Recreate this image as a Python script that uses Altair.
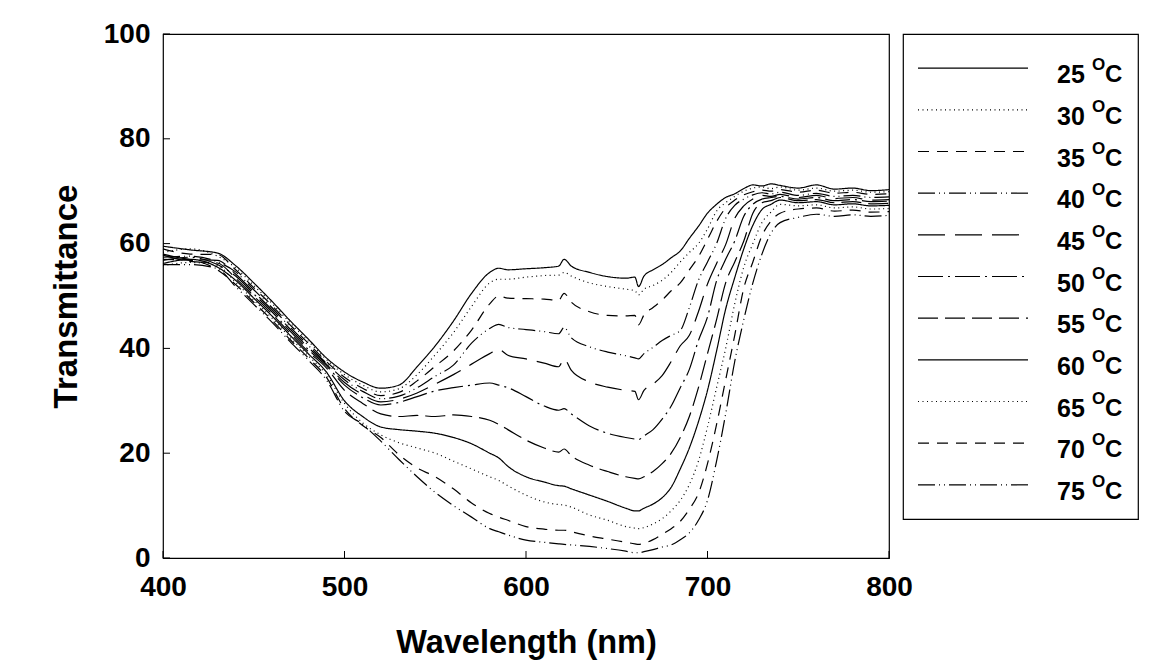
import altair as alt
import pandas as pd

wavelength = [400, 415, 430, 440, 450, 460, 470, 480, 490, 500,
              510, 520, 530, 540, 550, 560, 570, 580, 585, 590,
              600, 610, 618, 621, 625, 635, 645, 655, 660, 662,
              665, 670, 675, 680, 685, 690, 695, 700, 705, 710,
              715, 720, 725, 730, 735, 740, 750, 760, 770, 780,
              790, 800]

t25 = [59.5, 58.8, 58.2, 55.8, 52.5, 49.0, 45.3, 41.8, 38.2, 35.5,
       33.6, 32.4, 33.0, 36.5, 40.5, 45.2, 50.5, 54.5, 55.3, 55.0,
       55.2, 55.4, 55.7, 57.0, 55.7, 54.5, 53.7, 53.4, 53.6, 51.8,
       53.8, 55.0, 56.0, 57.3, 58.6, 61.0, 63.3, 65.8, 67.5, 68.8,
       69.5, 70.5, 71.2, 71.0, 71.4, 71.1, 70.6, 71.2, 70.4, 70.6,
       70.1, 70.3]
t30 = [58.3, 59.0, 57.6, 55.4, 52.0, 48.6, 44.9, 41.4, 37.9, 35.0,
       33.0, 31.7, 32.3, 35.0, 38.8, 43.0, 48.0, 52.5, 53.2, 53.2,
       53.6, 53.9, 54.0, 54.5, 53.8, 52.5, 51.8, 51.3, 51.0, 50.2,
       51.3, 52.0, 53.0, 54.5, 56.5, 58.3, 60.0, 62.8, 66.2, 67.8,
       69.0, 70.0, 70.6, 70.8, 70.5, 70.8, 70.2, 70.6, 70.0, 70.2,
       69.8, 69.9]
t35 = [59.0, 58.0, 57.9, 55.0, 51.6, 48.2, 44.5, 41.0, 37.5, 34.5,
       32.4, 31.0, 31.6, 33.8, 36.6, 39.5, 43.5, 48.5, 50.0, 49.6,
       49.5, 49.4, 49.2, 50.5, 48.8, 47.0, 46.3, 46.2, 46.3, 44.5,
       46.4, 47.8, 49.2, 51.0, 52.5, 55.0, 57.5, 60.8, 64.2, 66.8,
       68.3, 69.3, 69.9, 70.2, 70.0, 70.3, 69.8, 70.2, 69.6, 69.8,
       69.4, 69.5]
t40 = [57.4, 57.6, 56.5, 54.6, 51.2, 47.8, 44.1, 40.6, 37.2, 34.0,
       31.8, 30.4, 30.9, 32.5, 34.7, 36.8, 41.0, 43.8, 44.6, 44.0,
       43.6, 43.2, 42.8, 44.0, 42.0, 40.3, 39.3, 38.6, 38.2, 38.0,
       39.0, 40.2, 41.5, 42.5, 43.4, 47.8, 53.0, 56.5, 60.0, 64.8,
       67.3, 68.5, 69.3, 69.7, 69.5, 69.8, 69.2, 69.6, 69.0, 69.2,
       68.8, 68.9]
t45 = [58.0, 57.0, 56.8, 54.2, 50.8, 47.4, 43.7, 40.2, 37.0, 33.5,
       31.2, 29.8, 30.3, 31.5, 33.2, 35.0, 37.0, 39.0, 39.8, 38.7,
       38.0, 37.2, 36.5, 38.0, 35.8, 33.6, 32.6, 32.0, 31.8, 30.2,
       32.0, 33.2, 34.8, 37.5, 40.5, 42.5, 47.0, 52.3, 56.2, 59.8,
       64.8, 67.2, 68.5, 69.2, 69.0, 69.4, 68.8, 69.2, 68.6, 68.8,
       68.3, 68.4]
t50 = [56.8, 57.4, 56.0, 53.8, 50.4, 47.0, 43.3, 39.8, 36.7, 33.0,
       30.6, 29.2, 29.7, 30.8, 31.9, 32.5, 33.0, 33.4, 33.0, 32.5,
       30.8, 29.0, 28.2, 28.5, 27.5, 25.2, 23.8, 23.0, 22.7, 22.6,
       23.3, 24.5, 26.5, 29.0, 32.5, 36.0, 41.5, 46.0, 52.9, 57.0,
       60.5, 65.2, 67.5, 68.5, 68.8, 69.0, 68.5, 68.8, 68.2, 68.4,
       68.0, 68.1]
t55 = [57.8, 56.6, 56.3, 53.4, 50.0, 46.6, 42.9, 39.4, 36.3, 32.0,
       29.5, 27.5, 27.0, 27.2, 27.0, 27.3, 27.0, 26.3, 25.5, 24.5,
       22.5, 21.0, 20.2, 20.8, 19.5, 17.7, 16.5, 15.5, 15.2, 15.1,
       15.5, 16.5, 18.0, 20.0, 23.0, 27.0, 32.5, 39.0, 45.5, 52.5,
       56.5, 60.5, 65.8, 67.8, 68.2, 68.8, 68.2, 68.4, 67.8, 68.0,
       67.6, 67.7]
t60 = [56.2, 57.0, 55.5, 53.0, 49.6, 46.2, 42.5, 39.0, 35.5, 30.0,
       27.0, 25.0, 24.5, 24.2, 23.8, 23.0, 21.8, 20.0, 19.1, 17.5,
       15.5, 14.5, 13.8, 13.7, 13.2, 12.0, 10.8, 9.5, 9.0, 9.0,
       9.5, 10.3, 11.5, 13.5, 17.0, 21.0, 26.0, 32.0, 39.5, 47.5,
       53.5, 59.0, 63.5, 66.5, 67.5, 68.3, 67.8, 68.0, 67.4, 67.6,
       67.2, 67.3]
t65 = [55.8, 56.4, 55.8, 52.6, 49.2, 45.8, 42.1, 38.6, 35.0, 29.5,
       25.8, 23.5, 22.0, 21.0, 20.0, 18.5, 17.0, 15.5, 14.8, 13.8,
       12.0, 10.7, 10.2, 10.1, 9.7, 8.2, 7.2, 6.0, 5.7, 5.6,
       5.8, 6.5, 7.5, 9.0, 11.0, 14.0, 18.5, 25.0, 32.5, 40.0,
       48.5, 55.5, 60.0, 64.0, 66.0, 67.5, 67.2, 67.4, 66.8, 67.0,
       66.6, 66.7]
t70 = [57.0, 56.8, 55.0, 52.2, 48.8, 45.4, 41.7, 38.2, 34.5, 28.5,
       25.3, 23.0, 19.7, 17.2, 15.5, 13.2, 10.5, 8.5, 7.8, 7.2,
       6.0, 5.5, 5.3, 5.3, 5.0, 4.2, 3.6, 3.0, 2.7, 2.6,
       2.8, 3.5, 4.5, 5.6, 7.0, 9.3, 12.3, 18.0, 25.5, 34.0,
       42.5, 51.5, 56.5, 61.5, 64.3, 65.8, 66.6, 66.8, 66.2, 66.4,
       66.0, 66.1]
t75 = [56.0, 56.0, 55.2, 51.8, 48.4, 45.0, 41.3, 37.8, 34.0, 28.0,
       25.5, 22.3, 18.8, 15.5, 12.5, 10.0, 7.8, 5.6, 5.0, 4.4,
       3.4, 3.0, 2.7, 2.6, 2.5, 2.2, 1.8, 1.3, 1.0, 1.0,
       1.2, 1.6, 2.1, 2.5, 3.5, 4.8, 7.2, 11.0, 18.5, 27.5,
       37.5, 45.5, 52.5, 58.0, 62.0, 64.0, 65.0, 65.6, 65.2, 65.5,
       65.2, 65.4]

temps = ["25", "30", "35", "40", "45", "50", "55", "60", "65", "70", "75"]
series = [t25, t30, t35, t40, t45, t50, t55, t60, t65, t70, t75]
x_ticks = [400, 500, 600, 700, 800]
y_ticks = [0, 20, 40, 60, 80, 100]

dashes = [[1, 0], [1, 3.5], [11, 8], [17, 4, 1, 4, 1, 4], [27, 10], [25, 5, 2, 5],
          [20, 7], [1, 0], [1, 3.5], [11, 8], [17, 4, 1, 4, 1, 4]]

rows = []
for t, vals in zip(temps, series):
    for w, v in zip(wavelength, vals):
        rows.append({"wl": w, "T": v, "temp": t})
df = pd.DataFrame(rows)

FONT = "Liberation Sans"
W, H = 726, 524

xscale = alt.Scale(domain=[400, 800], nice=False, zero=False)
yscale = alt.Scale(domain=[0, 100], nice=False)
dash_scale = alt.Scale(domain=temps, range=dashes)

xaxis = alt.Axis(values=x_ticks, title="Wavelength (nm)", grid=False, ticks=False,
                 tickSize=0, domain=False, labelFont=FONT, labelFontSize=28,
                 labelFontWeight="bold", labelColor="black", labelPadding=15,
                 labelFlush=False,
                 titleFont=FONT, titleFontSize=32.5, titleFontWeight="bold",
                 titleColor="black", titlePadding=25, format="d")
yaxis = alt.Axis(values=y_ticks, title="Transmittance", grid=False, ticks=False,
                 tickSize=0, domain=False, labelFont=FONT, labelFontSize=28,
                 labelFontWeight="bold", labelColor="black", labelPadding=13,
                 labelFlush=False,
                 titleFont=FONT, titleFontSize=33, titleFontWeight="bold",
                 titleColor="black", titlePadding=20, format="d")

lines = alt.Chart(df).mark_line(color="black", strokeWidth=1.2, interpolate="monotone").encode(
    x=alt.X("wl:Q", scale=xscale, axis=xaxis),
    y=alt.Y("T:Q", scale=yscale, axis=yaxis),
    strokeDash=alt.StrokeDash("temp:N", scale=dash_scale, legend=None),
    detail="temp:N",
)

xt = alt.Chart(pd.DataFrame({"wl": x_ticks})).mark_rule(color="black", strokeWidth=1).encode(
    x=alt.X("wl:Q", scale=xscale, axis=xaxis), y=alt.value(H), y2=alt.value(H - 7))
yt = alt.Chart(pd.DataFrame({"T": y_ticks})).mark_rule(color="black", strokeWidth=1).encode(
    y=alt.Y("T:Q", scale=yscale, axis=yaxis), x=alt.value(0), x2=alt.value(7))

main = alt.layer(lines, xt, yt).properties(width=W, height=H)

leg_df = pd.DataFrame({"temp": temps})
ly = alt.Y("temp:N", scale=alt.Scale(type="point", domain=temps, padding=0.82), axis=None)
leg_base = alt.Chart(leg_df)
leg_lines = leg_base.mark_rule(color="black", strokeWidth=1.2).encode(
    y=ly, x=alt.value(15), x2=alt.value(125),
    strokeDash=alt.StrokeDash("temp:N", scale=dash_scale, legend=None))
leg_num = leg_base.mark_text(align="left", baseline="middle", font=FONT, fontSize=25,
                             fontWeight="bold", color="black", dy=7).encode(
    y=ly, x=alt.value(154), text="temp:N")
leg_o = leg_base.mark_text(align="left", baseline="middle", font=FONT, fontSize=17,
                           fontWeight="bold", color="black", dy=-3).encode(
    y=ly, x=alt.value(189), text=alt.value("O"))
leg_c = leg_base.mark_text(align="left", baseline="middle", font=FONT, fontSize=24,
                           fontWeight="bold", color="black", dy=7).encode(
    y=ly, x=alt.value(202), text=alt.value("C"))
legend = alt.layer(leg_lines, leg_num, leg_o, leg_c).properties(width=235, height=485)

chart = alt.hconcat(main, legend, spacing=14, bounds="flush").properties(
    padding={"left": 41, "top": 11, "right": 5, "bottom": 5}
).configure_view(stroke="black", strokeWidth=1.2)

chart.save("out.html", embed_options={"renderer": "svg", "actions": False})
